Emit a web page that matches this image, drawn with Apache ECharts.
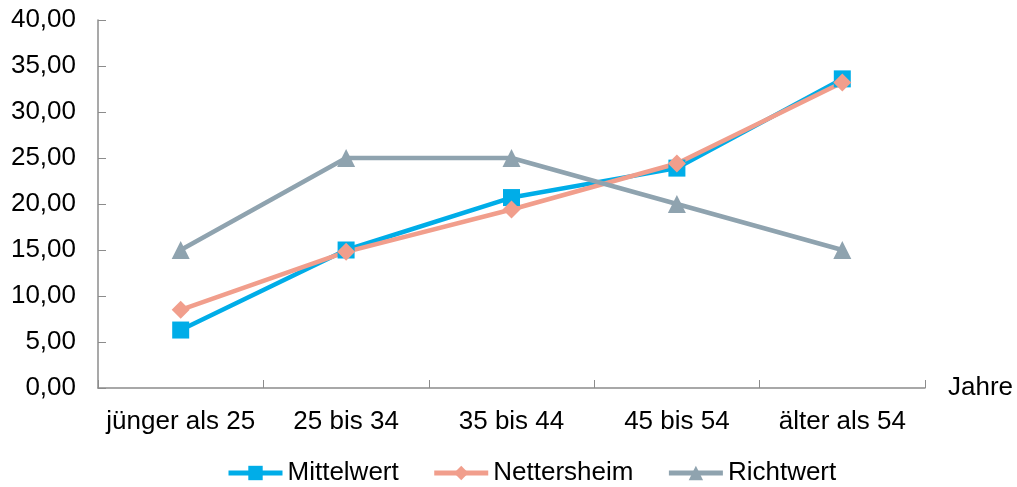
<!DOCTYPE html>
<html><head><meta charset="utf-8">
<script src="https://cdn.jsdelivr.net/npm/echarts@6/dist/echarts.min.js"></script>
<style>html,body{margin:0;padding:0;background:#fff}#c{width:1017px;height:487px}</style>
</head><body><div id="c"></div>
<script>
const categories = ['jünger als 25', '25 bis 34', '35 bis 44', '45 bis 54', 'älter als 54'];
const mittelwert = [6.3, 15.0, 20.7, 23.9, 33.6];
const nettersheim = [8.5, 14.8, 19.4, 24.4, 33.2];
const richtwert = [15, 25, 25, 20, 15];
const yTicks = { min: 0, max: 40, interval: 5 };

const font = 'Liberation Sans, Arial, sans-serif';
const chart = echarts.init(document.getElementById('c'), null, { renderer: 'canvas' });
function mk(name, data, color, symbol, size) {
  return {
    name, type: 'line', data, symbol, symbolSize: size,
    lineStyle: { color, width: 4.5 }, itemStyle: { color },
    emphasis: { disabled: true }
  };
}
chart.setOption({
  animation: false,
  textStyle: { fontFamily: font },
  grid: { left: 98, right: 92, top: 20, bottom: 99, containLabel: false },
  legend: {
    top: 455, left: 221, itemWidth: 54, itemHeight: 18, itemGap: 33,
    lineStyle: { width: 5 },
    textStyle: { fontSize: 26, color: '#000', fontFamily: font },
    data: ['Mittelwert', 'Nettersheim', 'Richtwert']
  },
  xAxis: {
    type: 'category', data: categories, boundaryGap: true,
    name: 'Jahre', nameLocation: 'end', nameGap: 23,
    nameTextStyle: { fontSize: 26, color: '#000', fontFamily: font, verticalAlign: 'middle' },
    axisLine: { lineStyle: { color: '#8c8c8c', width: 1.5 } },
    axisTick: { show: true, interval: 0, alignWithLabel: false, length: 8, inside: true, lineStyle: { color: '#8c8c8c' } },
    axisLabel: { interval: 0, fontSize: 26, color: '#000', margin: 21, fontFamily: font }
  },
  yAxis: {
    type: 'value', min: yTicks.min, max: yTicks.max, interval: yTicks.interval,
    axisLine: { show: true, lineStyle: { color: '#8c8c8c', width: 1.5 } },
    axisTick: { show: true, length: 8, inside: true, lineStyle: { color: '#8c8c8c' } },
    splitLine: { show: false },
    axisLabel: { fontSize: 26, color: '#000', margin: 22, fontFamily: font,
      formatter: v => v.toFixed(2).replace('.', ',') }
  },
  series: [
    mk('Mittelwert', mittelwert, '#00ADE8', 'rect', 17),
    mk('Nettersheim', nettersheim, '#F19E8C', 'diamond', 18),
    mk('Richtwert', richtwert, '#8FA3AF', 'triangle', 18)
  ]
});
</script></body></html>
